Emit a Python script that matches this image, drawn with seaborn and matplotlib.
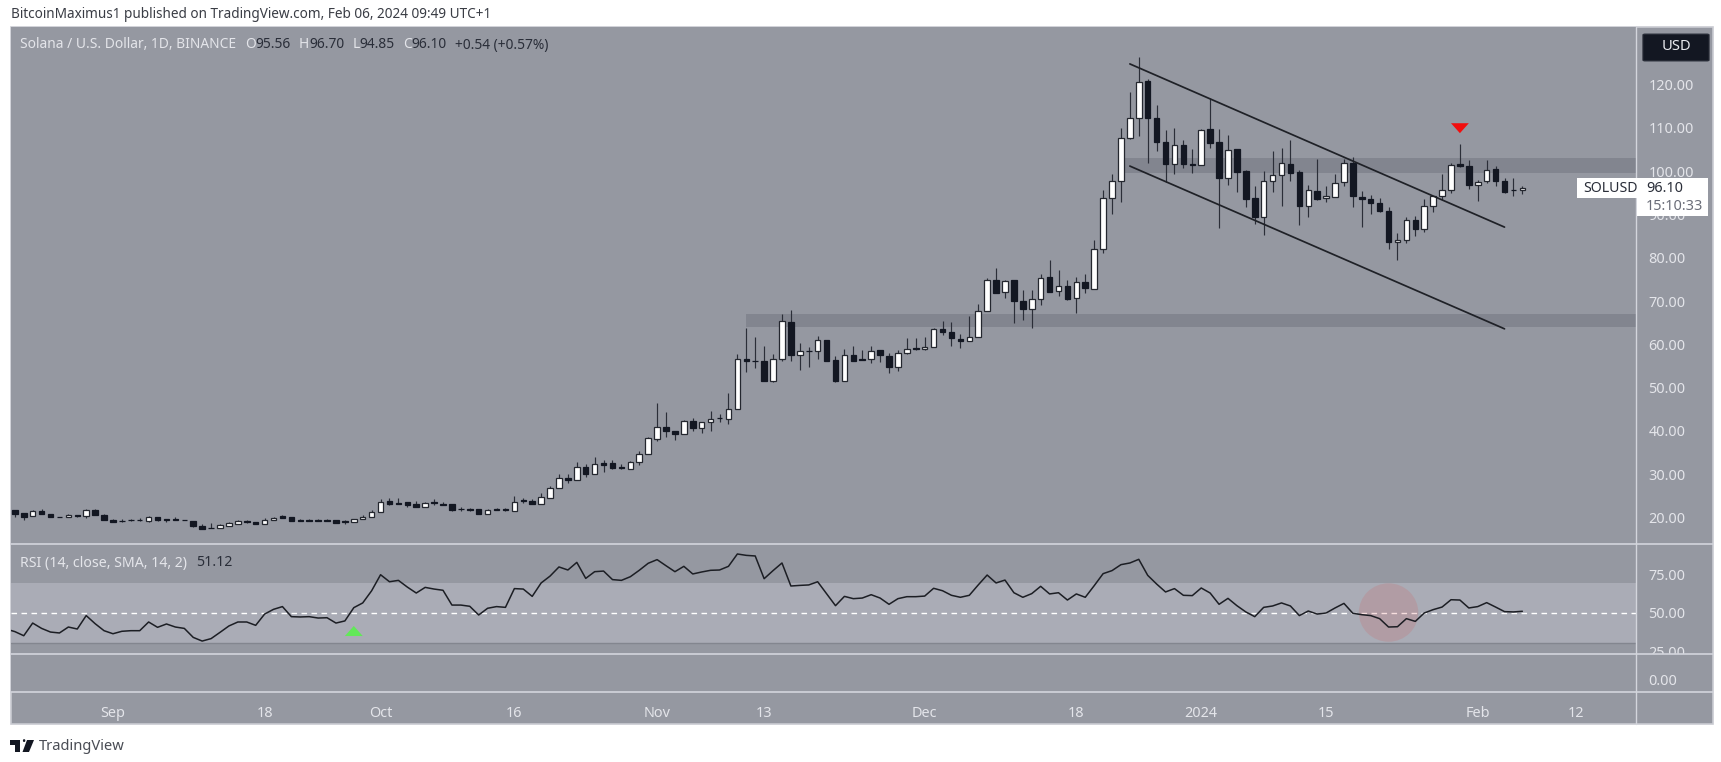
import matplotlib
matplotlib.use("Agg")
import matplotlib.pyplot as plt
import matplotlib.dates as mdates
from matplotlib.lines import Line2D
from matplotlib.patches import Rectangle, FancyBboxPatch, Polygon, Ellipse
from matplotlib.transforms import Bbox
from matplotlib.ticker import FixedLocator, FixedFormatter, FuncFormatter
import pandas as pd
import seaborn as sns

opens = [21.76,20.99,20.3,21.53,20.84,20.14,20.06,20.6,20.3,21.68,
 20.6,19.52,19.29,19.52,19.52,19.22,20.14,19.68,19.68,19.52,
 19.22,18.06,17.67,17.67,18.13,18.52,19.14,18.98,18.6,19.37,
 20.3,20.22,19.37,19.37,19.37,19.37,19.37,19.14,18.91,19.6,
 20.06,21.22,23.77,23.46,23.54,23.07,22.53,23.54,23.15,23.07,
 22.07,22.07,22.0,20.91,22.07,21.92,21.61,24.0,23.77,23.23,
 24.61,26.77,29.24,28.7,31.63,30.0,32.64,32.56,31.63,31.33,
 32.72,34.64,38.2,40.9,40.05,39.28,42.28,40.8,41.97,43.05,
 42.82,45.06,56.72,56.25,56.17,51.47,56.64,65.28,57.64,58.56,
 58.41,61.11,56.41,51.47,57.56,56.64,56.56,58.64,57.33,54.71,
 57.95,59.1,58.88,59.34,63.5,62.89,61.34,60.73,61.65,67.67,
 74.77,72.07,74.77,70.06,68.29,70.45,75.62,72.3,73.38,70.76,
 74.31,72.77,82.02,93.75,97.76,107.72,112.35,120.76,112.35,106.79,
 101.77,106.17,101.77,101.46,109.87,106.86,98.38,105.09,100.0,93.74,
 89.35,97.76,99.07,101.77,99.76,91.97,95.52,93.74,94.13,97.53,
 102.0,94.05,93.59,92.66,90.89,83.56,84.18,88.65,86.72,92.05,
 94.21,95.75,101.62,101.31,96.91,97.68,100.46,97.84,95.7,95.56]
highs = [21.76,20.99,21.76,22.0,20.84,20.14,20.84,20.6,22.0,22.0,
 20.91,19.76,19.6,19.76,19.99,20.37,20.14,19.68,20.14,19.52,
 19.22,18.44,18.68,18.44,19.06,19.45,19.45,18.98,19.91,20.2,
 20.53,20.22,19.76,19.6,19.6,19.6,19.37,19.45,19.76,20.53,
 21.68,24.39,24.62,24.62,23.54,23.77,23.61,24.23,23.54,23.07,
 22.46,22.3,22.0,22.0,22.3,22.3,24.93,24.62,24.2,25.7,
 27.24,30.17,30.0,32.87,32.33,33.95,33.26,33.33,32.33,33.0,
 35.26,38.7,46.5,44.5,40.05,42.6,42.9,42.05,44.68,43.9,
 48.77,57.8,63.8,61.8,59.72,57.8,67.05,67.98,60.42,59.34,
 62.04,61.11,57.33,58.95,59.57,58.72,59.72,58.8,57.95,58.72,
 61.5,61.5,61.8,63.7,65.51,65.13,62.42,66.67,69.37,75.23,
 77.7,74.8,74.77,72.46,72.46,76.16,79.48,77.09,74.77,75.54,
 76.31,84.18,95.6,99.38,110.11,118.21,126.31,121.22,115.28,109.49,
 109.95,107.33,105.09,109.8,116.82,109.87,108.48,105.24,100.23,96.7,
 100.0,104.62,105.32,107.17,100.38,96.91,102.77,96.7,99.3,102.8,
 103.3,95.37,94.52,93.9,91.74,85.8,89.43,89.66,93.67,94.4,
 99.46,101.8,106.4,102.7,98.07,102.54,101.15,98.53,98.53,96.7]
lows = [20.22,19.37,20.3,20.76,20.06,20.06,20.06,20.06,19.99,20.53,
 19.37,18.98,18.98,19.14,19.14,18.98,19.14,19.06,19.45,19.45,
 17.9,17.44,17.6,17.67,18.13,18.52,18.68,18.52,18.6,19.37,
 19.83,19.2,19.14,19.14,19.14,19.14,18.68,18.6,18.91,19.6,
 20.06,21.22,22.84,23.15,22.53,22.53,22.53,22.84,22.92,21.61,
 21.53,21.53,20.91,20.91,21.84,21.53,21.61,23.3,23.23,23.23,
 24.61,26.77,28.09,28.7,29.32,30.0,30.63,31.25,31.33,31.33,
 32.17,34.64,37.65,38.5,37.96,39.28,40.05,39.58,40.05,42.13,
 41.59,45.06,53.63,54.55,51.47,51.3,56.1,56.25,54.09,54.71,
 56.56,56.25,51.3,51.47,56.1,56.3,55.63,56.02,53.47,53.94,
 57.9,58.72,58.8,59.34,62.27,59.57,59.18,60.73,61.65,67.67,
 71.9,70.68,64.89,65.74,63.81,69.14,72.1,71.07,70.3,67.21,
 71.84,72.7,81.1,90.2,92.83,107.5,108.1,101.93,104.71,97.53,
 99.38,100.85,99.69,101.4,105.32,86.88,96.75,95.21,91.74,87.88,
 85.33,95.21,91.97,97.68,87.57,89.5,93.4,92.97,94.0,96.6,
 91.74,87.11,90.2,90.7,82.02,79.4,83.41,84.95,86.0,90.66,
 93.44,94.98,101.1,95.98,93.13,97.3,96.6,94.9,94.21,94.85]
closes = [20.91,20.22,21.45,20.76,20.06,20.06,20.6,20.3,21.68,20.53,
 19.37,18.98,19.14,19.37,19.37,20.14,19.37,19.45,19.45,19.45,
 18.13,17.44,17.6,18.21,18.75,19.14,18.98,18.52,19.45,19.99,
 19.83,19.2,19.14,19.14,19.14,19.14,18.68,18.98,19.76,20.22,
 21.22,23.69,23.07,23.15,22.84,22.53,23.3,23.3,22.92,21.84,
 21.92,21.84,20.91,21.68,21.84,21.76,23.69,23.85,23.23,24.78,
 26.77,29.24,28.7,31.63,30.09,32.33,32.25,31.56,31.48,32.72,
 34.72,38.35,40.9,39.97,39.28,42.28,40.8,42.05,42.75,42.9,
 45.14,56.64,56.1,56.1,51.47,56.64,65.43,57.64,58.41,58.41,
 61.04,56.25,51.47,57.49,56.25,56.41,58.56,57.49,54.71,57.95,
 59.03,58.95,59.49,63.5,62.81,61.42,60.73,61.65,67.67,74.77,
 71.99,74.69,70.06,68.29,70.45,75.39,72.22,73.38,70.45,74.31,
 72.92,82.02,93.83,97.76,107.72,112.35,120.68,112.35,106.79,101.7,
 106.1,101.7,101.54,109.64,106.55,98.38,104.86,99.92,93.51,89.35,
 97.76,99.22,101.92,99.69,91.97,95.67,93.51,94.29,97.29,101.92,
 94.2,93.59,92.66,90.81,83.56,84.02,88.65,86.65,91.97,94.21,
 95.75,101.54,101.15,96.83,97.53,100.38,97.68,95.14,95.56,96.1]
rsi = [39.5,37.8,35.1,43.4,39.9,37.5,36.9,40.8,39.5,48.3,43.0,
 38.4,36.4,38.0,38.4,38.4,44.1,40.6,42.8,40.8,39.9,
 34.0,31.6,33.2,37.3,41.5,44.1,44.1,41.9,49.3,52.4,
 54.2,47.6,47.4,47.6,46.7,46.9,43.4,44.8,53.5,56.6,
 64.6,75.1,70.5,71.4,67.0,63.1,66.8,65.7,64.9,55.2,
 55.2,54.4,48.7,53.1,54.2,53.7,66.0,65.7,60.9,69.7,
 74.2,80.2,78.2,83.2,72.7,77.1,77.5,71.9,71.4,73.8,
 78.0,82.6,85.0,81.0,77.1,80.6,75.6,76.9,78.0,78.2,
 80.6,88.7,87.8,87.4,72.5,77.8,82.8,67.7,68.1,68.4,
 70.5,62.7,54.8,60.9,59.4,59.8,62.0,59.8,55.7,59.4,
 60.7,60.7,61.1,66.2,64.6,61.6,60.3,61.6,68.4,74.9,
 69.7,71.6,63.3,60.3,62.7,67.5,62.5,63.3,58.5,62.5,
 60.3,67.9,75.8,77.8,81.7,82.8,85.2,74.7,69.0,63.8,
 66.0,61.6,61.4,66.4,63.1,55.7,59.6,54.8,50.7,47.6,
 53.7,54.6,56.6,54.6,48.3,51.3,49.3,50.0,53.3,56.3,
 49.8,48.9,48.3,46.3,40.8,41.0,46.3,44.5,50.0,52.2,
 53.9,58.7,58.5,53.3,54.2,56.8,53.9,50.9,50.7,51.12]
price_ticks = [20, 30, 40, 50, 60, 70, 80, 90, 100, 110, 120]
rsi_ticks = [25, 50, 75]
time_dates = ["2023-09-01","2023-09-18","2023-10-01","2023-10-16","2023-11-01","2023-11-13",
              "2023-12-01","2023-12-18","2024-01-01","2024-01-15","2024-02-01","2024-02-12"]
time_labels = ["Sep","18","Oct","16","Nov","13","Dec","18","2024","15","Feb","12"]
upper_channel = [("2023-12-24", 124.8), ("2024-02-04", 87.1)]
lower_channel = [("2023-12-24", 101.2), ("2024-02-04", 63.6)]
zone_high = (99.6, 103.0, "2023-12-23")
zone_low = (64.1, 67.1, "2023-11-11")

W, H = 1721, 762
BG = "#9598a1"; BAND = "#aaacb6"; ZONE = "#82858f"; DARK = "#131722"
WICK = "#2b2e38"; SEP = "#d3d5dc"; LIGHT = "#e4e5ea"; VAL = "#2a2e39"
FONT = ["Noto Sans", "DejaVu Sans"]

sns.set_theme(style="white")
plt.rcParams["font.family"] = FONT
plt.rcParams["font.size"] = 9.9

fig = plt.figure(figsize=(W/100, H/100), dpi=100, facecolor="white")
def box(x0, y0, x1, y1):
    return [x0/W, 1-y1/H, (x1-x0)/W, (y1-y0)/H]
def fx(x): return x/W
def fy(y): return 1-y/H

fig.add_artist(Rectangle((fx(10.5), fy(724)), (1713-10.5)/W, (724-26.5)/H, transform=fig.transFigure,
                         facecolor=BG, edgecolor="#c9cbd2", lw=1.2, zorder=-1))

L, R = 11, 1636
ax = fig.add_axes(box(L, 27, R, 544))
ax_rsi = fig.add_axes(box(L, 544, R, 654), sharex=ax)
ax_low = fig.add_axes(box(L, 654, R, 692), sharex=ax)

dates = pd.date_range("2023-08-21", periods=len(closes), freq="D")
rsi_dates = pd.date_range("2023-08-20", periods=len(rsi), freq="D")
day = lambda s: mdates.date2num(pd.Timestamp(s))

for a in (ax, ax_rsi, ax_low):
    a.set_facecolor(BG)
    for s in a.spines.values():
        s.set_visible(False)
    a.yaxis.tick_right()
    a.tick_params(axis="y", length=0, pad=9, labelcolor=LIGHT, labelsize=10.4)
    a.grid(False)

base = day("2023-09-01")
ax.set_xlim(base-11.43, base+170.74)
ax.set_ylim(13.89, 133.33)
ax_rsi.set_ylim(23.11, 95.25)
ax_low.set_ylim(-7.87, 17.05)

# zones
for lo, hi, start in (zone_high, zone_low):
    ax.fill_between([day(start), base+170.74], lo, hi, color=ZONE, lw=0, zorder=1)

# candles
ups = [c >= o for o, c in zip(opens, closes)]
nums = mdates.date2num(dates)
ax.vlines(nums, lows, highs, color=WICK, lw=0.85, zorder=2)
bottoms = [min(o, c) for o, c in zip(opens, closes)]
heights = [abs(o-c) for o, c in zip(opens, closes)]
ax.bar(nums, heights, bottom=bottoms, width=0.62,
       color=["white" if u else DARK for u in ups],
       edgecolor=["#24272f" if u else DARK for u in ups], linewidth=0.9, zorder=3)

# channel
for seg in (upper_channel, lower_channel):
    ax.plot([day(seg[0][0]), day(seg[1][0])], [seg[0][1], seg[1][1]], color="#1f2127", lw=1.25, zorder=4)

# red marker
d0 = day("2024-01-30")
ax.add_patch(Polygon([(d0-1.0, 111.1), (d0+1.0, 111.1), (d0, 108.8)], closed=True, facecolor="#f20d0d", edgecolor="none", zorder=5))

ax.yaxis.set_major_locator(FixedLocator(price_ticks))
ax.yaxis.set_major_formatter(FuncFormatter(lambda v, p: f"{v:.2f}"))

# RSI pane
ax_rsi.axhspan(30, 70, color=BAND, lw=0, zorder=1)
ax_rsi.axhline(30, color="#83868f", lw=1.0, zorder=1.5)
ax_rsi.axhline(50, color="white", lw=1.0, dashes=(4, 3.2), zorder=2)
ax_rsi.add_patch(Ellipse((day("2024-01-22"), 50.3), 6.66, 38.3, facecolor=(210/255, 92/255, 92/255, 0.2), edgecolor="none", zorder=2.5))
sns.lineplot(x=mdates.date2num(rsi_dates), y=rsi, ax=ax_rsi, color="#1c1e24", lw=1.1, zorder=3, errorbar=None)
g0 = day("2023-09-28")
ax_rsi.add_patch(Polygon([(g0-1.0, 34.9), (g0+1.0, 34.9), (g0, 41.5)], closed=True, facecolor="#62e858", edgecolor="none", zorder=4))
ax_rsi.set_xlabel(""); ax_rsi.set_ylabel("")
ax_rsi.yaxis.set_major_locator(FixedLocator(rsi_ticks))
ax_rsi.yaxis.set_major_formatter(FuncFormatter(lambda v, p: f"{v:.2f}"))

ax_low.yaxis.set_major_locator(FixedLocator([0]))
ax_low.yaxis.set_major_formatter(FuncFormatter(lambda v, p: f"{v:.2f}"))

# time axis
ax_low.xaxis.set_major_locator(FixedLocator([day(s) for s in time_dates]))
ax_low.xaxis.set_major_formatter(FixedFormatter(time_labels))
ax_low.tick_params(axis="x", length=0, pad=10, labelcolor=LIGHT, labelsize=10.4)
for lab, t in zip(ax_low.get_xticklabels(), time_labels):
    if t == "2024":
        lab.set_fontweight("bold")
ax.tick_params(axis="x", which="both", length=0, labelbottom=False)
ax_rsi.tick_params(axis="x", which="both", length=0, labelbottom=False)

# clip the RSI scale labels at the pane edge
clip = Bbox([[R, H-654], [1713, H-544]])
for lab in ax_rsi.get_yticklabels():
    lab.set_clip_box(clip)
    lab.set_clip_on(True)

# separators
for y in (544, 654, 692):
    fig.add_artist(Line2D([fx(L), fx(1713)], [fy(y), fy(y)], transform=fig.transFigure, color=SEP, lw=1.2, zorder=4))
fig.add_artist(Line2D([fx(R), fx(R)], [fy(27), fy(724)], transform=fig.transFigure, color=SEP, lw=1.0, zorder=4))

# text rows
renderer = fig.canvas.get_renderer()
def chain(x, y, parts, size=9.9):
    for s, col, gap in parts:
        t = fig.text(fx(x), fy(y), s, color=col, fontsize=size, va="center", ha="left", zorder=6)
        x += t.get_window_extent(renderer).width + gap

fig.text(fx(11), fy(14), "BitcoinMaximus1 published on TradingView.com, Feb 06, 2024 09:49 UTC+1",
         color="#3a3d45", fontsize=9.75, va="center")
chain(20, 45, [("Solana / U.S. Dollar, 1D, BINANCE", LIGHT, 9), ("O", LIGHT, 0), ("95.56", VAL, 8),
               ("H", LIGHT, 0), ("96.70", VAL, 8), ("L", LIGHT, 0), ("94.85", VAL, 8),
               ("C", LIGHT, 0), ("96.10", VAL, 8), ("+0.54 (+0.57%)", VAL, 0)])
chain(20, 563, [("RSI (14, close, SMA, 14, 2)", LIGHT, 9), ("51.12", VAL, 0)], size=10.2)

# USD button
fig.add_artist(FancyBboxPatch((fx(1645), fy(60)), (1707-1645)/W, (60-35)/H,
               boxstyle="round,pad=0.0012", transform=fig.transFigure, facecolor=DARK, edgecolor="#2a2e39", lw=0.8, zorder=5))
fig.text(fx(1676), fy(47), "USD", color="#e8e9ee", fontsize=10.6, va="center", ha="center", zorder=6)

# price tag
fig.add_artist(Rectangle((fx(1637), fy(216)), (1708-1637)/W, (216-178)/H, transform=fig.transFigure, facecolor="white", edgecolor="none", zorder=5))
fig.add_artist(Rectangle((fx(1577), fy(198)), (1637-1577)/W, (198-178)/H, transform=fig.transFigure, facecolor="white", edgecolor="none", zorder=5))
fig.text(fx(1583), fy(188), "SOLUSD", color="#2a2e39", fontsize=10.2, va="center", zorder=6)
fig.text(fx(1646), fy(188), "96.10", color="#2a2e39", fontsize=10.4, va="center", zorder=6)
fig.text(fx(1646), fy(207), "15:10:33", color="#6a6d78", fontsize=10.4, va="center", zorder=6)

# footer logo
fig.add_artist(Polygon([(fx(10), fy(740)), (fx(20), fy(740)), (fx(20), fy(752)), (fx(15), fy(752)), (fx(15), fy(745)), (fx(10), fy(745))],
                       closed=True, transform=fig.transFigure, facecolor=DARK, edgecolor="none", zorder=5))
fig.add_artist(Polygon([(fx(27), fy(740)), (fx(34), fy(740)), (fx(29), fy(752)), (fx(22.5), fy(752))],
                       closed=True, transform=fig.transFigure, facecolor=DARK, edgecolor="none", zorder=5))
fig.text(fx(21.5), fy(742.2), "\u2022", color=DARK, fontsize=8, va="center", ha="left", zorder=5)
fig.text(fx(39), fy(746.5), "TradingView", color="#4a4d55", fontsize=10.6, va="center", zorder=6)

fig.savefig("out.png", dpi=100, facecolor="white")
